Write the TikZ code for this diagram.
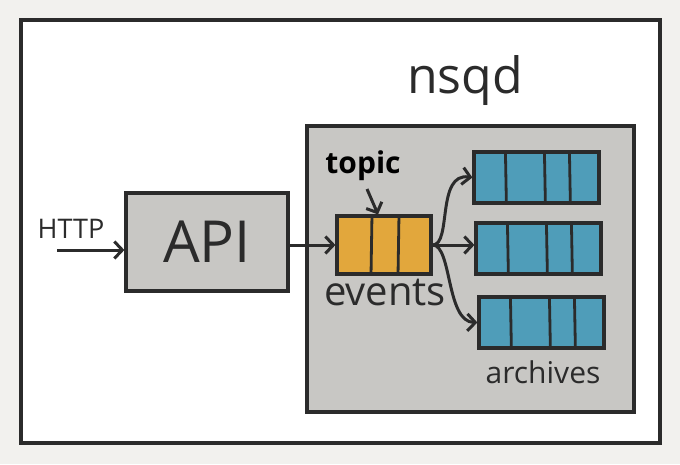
\documentclass[tikz,border=0pt]{standalone}
\usepackage{fontspec}
\setmainfont{Open Sans}
\usetikzlibrary{arrows.meta}
\definecolor{outerbg}{HTML}{F2F1EE}
\definecolor{ink}{HTML}{2B2B2B}
\definecolor{boxgrey}{HTML}{C8C7C4}
\definecolor{topicorange}{HTML}{E2A73C}
\definecolor{queueblue}{HTML}{4F9DB9}
\tikzset{
  px/.style={x=1pt,y=-1pt},
  frame/.style={draw=ink,line width=3.2pt,fill=white},
  greybox/.style={draw=ink,line width=3.2pt,fill=boxgrey,inner sep=0pt},
  topicbox/.style={draw=ink,line width=3.2pt,fill=topicorange,inner sep=0pt,minimum width=94pt,minimum height=58pt},
  queuebox/.style={draw=ink,line width=3.2pt,fill=queueblue,inner sep=0pt,minimum width=125pt,minimum height=51pt},
  divider/.style={draw=ink,line width=2.8pt},
  arr/.style={draw=ink,line width=3pt,-{Straight Barb[length=8pt,width=17pt,line width=3pt]}},
  lbl/.style={text=ink,inner sep=0pt},
}
\begin{document}
\begin{tikzpicture}[px]
\useasboundingbox (0,0) rectangle (680,464);
\fill[outerbg] (0,0) rectangle (680,464);
\draw[frame] (21,20) rectangle (660,443);

% nsqd container
\node[greybox,minimum width=327pt,minimum height=286pt] (nsqd) at (470.5,269) {};
\node[lbl,font=\fontsize{50}{54}\selectfont,anchor=base] (nsqdlabel) at (465,93) {nsqd};

% API
\node[greybox,minimum width=162pt,minimum height=98pt,font=\fontsize{58}{62}\selectfont,text=ink] (api) at (207,242) {API};

% HTTP
\node[lbl,font=\fontsize{27}{30}\selectfont,anchor=base] (http) at (71,238) {HTTP};
\coordinate (httpstart) at (57,250);
\draw[arr] (httpstart) -- (httpstart -| api.west);

% topic queue
\node[topicbox] (topic) at (384,245) {};
\draw[divider] ([xshift=-12pt]topic.north) -- ([xshift=-13pt]topic.south);
\draw[divider] ([xshift=15pt]topic.north) -- ([xshift=14pt]topic.south);
\node[lbl,font=\fontsize{30}{34}\selectfont\bfseries,text=black,anchor=base] (topiclabel) at (363,173) {topic};
\node[lbl,font=\fontsize{40}{44}\selectfont,anchor=base] (events) at (385,305) {events};
\coordinate (topicarrow) at (367,189);
\draw[arr] (topicarrow) -- ([xshift=-6pt]topic.north);
\draw[arr] (api.east |- topic.west) -- (topic.west);

% archive queues
\node[queuebox] (q1) at (536.5,177.5) {};
\node[queuebox] (q2) at (538.5,248.5) {};
\node[queuebox] (q3) at (541.5,322.5) {};
\foreach \q in {q1,q2,q3}{
  \draw[divider] ([xshift=33pt]\q.north west) -- ([xshift=34pt]\q.south west);
  \draw[divider] ([xshift=72pt]\q.north west) -- ([xshift=73pt]\q.south west);
  \draw[divider] ([xshift=97pt]\q.north west) -- ([xshift=98pt]\q.south west);
}
\node[lbl,font=\fontsize{30}{34}\selectfont,anchor=base] (archives) at (543,383) {archives};

% fan-out
\draw[arr] (topic.east) .. controls (452,245) and (436,172) .. (q1.west);
\draw[arr] (topic.east) -- (q2.west |- topic.east);
\draw[arr] (topic.east) .. controls (452,245) and (446,322) .. (q3.west);
\end{tikzpicture}
\end{document}
